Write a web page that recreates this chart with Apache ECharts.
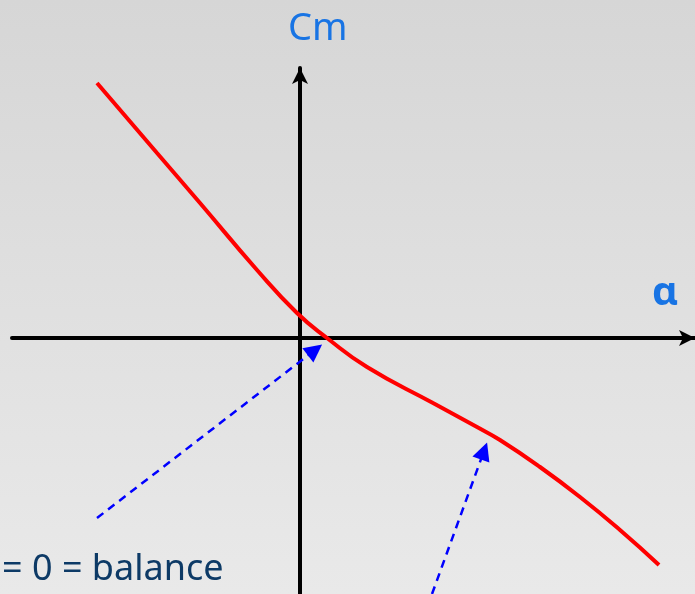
<!DOCTYPE html>
<html>
<head>
<meta charset="utf-8">
<script src="https://cdn.jsdelivr.net/npm/echarts@6/dist/echarts.min.js"></script>
<style>
  html, body { margin: 0; padding: 0; }
  #chart { width: 695px; height: 594px; }
</style>
</head>
<body>
<div id="chart"></div>
<script>
// Cm vs alpha (schematic units)
const alpha = [-203, -143, -100, -43, -3, 27, 67, 133, 177, 200, 240, 280, 320, 359]
const cm = [255, 185, 135, 68, 25, 0, -29, -65, -89, -102, -129, -159, -192, -227]

// annotation arrows: [from, to]
const arrowBalance = [[-203, -180], [15, -12]]
const arrowKink = [[132, -256], [184, -113]]

const chart = echarts.init(document.getElementById('chart'))

const options = {
  backgroundColor: new echarts.graphic.LinearGradient(0, 0, 0, 1, [
    { offset: 0, color: '#d6d6d6' },
    { offset: 1, color: '#e9e9e9' },
  ]),
  animation: false,
  grid: { left: 12, right: 0, top: 68, bottom: 0 },
  xAxis: {
    type: 'value',
    min: -288,
    max: 395,
    axisLine: {
      onZero: true,
      symbol: ['none', 'arrow'],
      symbolSize: [12, 16],
      lineStyle: { color: '#000', width: 4 },
    },
    axisTick: { show: false },
    axisLabel: { show: false },
    splitLine: { show: false },
  },
  yAxis: {
    type: 'value',
    min: -256,
    max: 270,
    name: 'Cm',
    nameLocation: 'end',
    nameGap: 20,
    nameTextStyle: {
      fontFamily: 'Noto Sans',
      fontSize: 38,
      color: '#1874e4',
      align: 'left',
      padding: [0, 0, 0, -12],
    },
    axisLine: {
      onZero: true,
      symbol: ['none', 'arrow'],
      symbolSize: [12, 16],
      lineStyle: { color: '#000', width: 4 },
    },
    axisTick: { show: false },
    axisLabel: { show: false },
    splitLine: { show: false },
  },
  graphic: [
    {
      type: 'text',
      left: 652,
      top: 274,
      style: { text: 'α', font: 'bold 40px "Noto Sans"', fill: '#1874e4' },
    },
    {
      type: 'text',
      left: 2,
      top: 552,
      style: { text: '= 0 = balance', font: '36px "Noto Sans"', fill: '#0d3a66' },
    },
  ],
  series: [
    {
      type: 'line',
      data: alpha.map((a, i) => [a, cm[i]]),
      smooth: 0.5,
      showSymbol: false,
      clip: false,
      lineStyle: { color: '#ff0000', width: 4 },
    },
    {
      type: 'lines',
      coordinateSystem: 'cartesian2d',
      symbol: ['none', 'triangle'],
      symbolSize: [14, 18],
      lineStyle: { color: '#0000ff', width: 2.5, type: [8, 6], opacity: 1 },
      data: [
        { coords: arrowBalance },
        { coords: arrowKink },
      ],
    },
  ],
}

chart.setOption(options, true)
</script>
</body>
</html>
